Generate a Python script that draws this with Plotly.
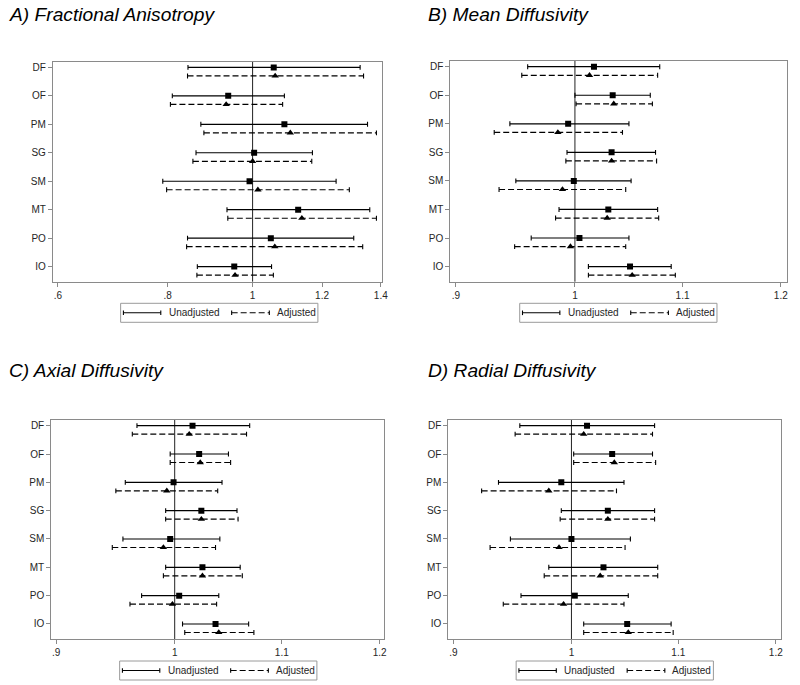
import plotly.graph_objects as go
import numpy as np

categories = ["DF", "OF", "PM", "SG", "SM", "MT", "PO", "IO"]

# A) Fractional Anisotropy
fa_unadj_est = [1.057, 0.938, 1.087, 1.004, 0.992, 1.127, 1.049, 0.953]
fa_unadj_lo = [0.844, 0.810, 0.873, 0.862, 0.790, 0.935, 0.843, 0.865]
fa_unadj_hi = [1.326, 1.087, 1.352, 1.170, 1.245, 1.360, 1.304, 1.051]
fa_adj_est = [1.061, 0.933, 1.104, 1.000, 1.014, 1.138, 1.060, 0.955]
fa_adj_lo = [0.843, 0.806, 0.880, 0.855, 0.798, 0.937, 0.841, 0.864]
fa_adj_hi = [1.338, 1.082, 1.384, 1.168, 1.289, 1.384, 1.335, 1.056]

# B) Mean Diffusivity
md_unadj_est = [1.017, 1.034, 0.994, 1.033, 0.999, 1.030, 1.004, 1.050]
md_unadj_lo = [0.959, 1.000, 0.944, 0.993, 0.949, 0.986, 0.962, 1.012]
md_unadj_hi = [1.078, 1.069, 1.049, 1.074, 1.051, 1.076, 1.049, 1.089]
md_adj_est = [1.013, 1.035, 0.985, 1.033, 0.989, 1.029, 0.996, 1.052]
md_adj_lo = [0.954, 1.001, 0.931, 0.992, 0.935, 0.983, 0.948, 1.012]
md_adj_hi = [1.076, 1.071, 1.043, 1.075, 1.046, 1.077, 1.046, 1.093]

# C) Axial Diffusivity
ad_unadj_est = [1.016, 1.022, 0.999, 1.024, 0.996, 1.025, 1.004, 1.037]
ad_unadj_lo = [0.967, 0.996, 0.957, 0.992, 0.955, 0.992, 0.971, 1.007]
ad_unadj_hi = [1.069, 1.049, 1.043, 1.057, 1.041, 1.060, 1.040, 1.068]
ad_adj_est = [1.013, 1.023, 0.993, 1.024, 0.990, 1.025, 0.998, 1.040]
ad_adj_lo = [0.963, 0.996, 0.949, 0.992, 0.946, 0.990, 0.961, 1.009]
ad_adj_hi = [1.066, 1.051, 1.039, 1.058, 1.037, 1.062, 1.038, 1.073]

# D) Radial Diffusivity
rd_unadj_est = [1.014, 1.037, 0.991, 1.033, 1.000, 1.029, 1.003, 1.051]
rd_unadj_lo = [0.955, 1.002, 0.937, 0.991, 0.947, 0.980, 0.956, 1.011]
rd_unadj_hi = [1.077, 1.075, 1.048, 1.077, 1.054, 1.080, 1.052, 1.093]
rd_adj_est = [1.011, 1.039, 0.980, 1.033, 0.989, 1.026, 0.993, 1.052]
rd_adj_lo = [0.951, 1.002, 0.923, 0.990, 0.930, 0.976, 0.941, 1.011]
rd_adj_hi = [1.075, 1.078, 1.041, 1.077, 1.049, 1.080, 1.048, 1.095]

titles = ["A) Fractional Anisotropy", "B) Mean Diffusivity",
          "C) Axial Diffusivity", "D) Radial Diffusivity"]
fa_ticks = [0.6, 0.8, 1.0, 1.2, 1.4]
fa_ticktext = [".6", ".8", "1", "1.2", "1.4"]
diff_ticks = [0.9, 1.0, 1.1, 1.2]
diff_ticktext = [".9", "1", "1.1", "1.2"]

W, H = 800, 685
def px(x): return x / W
def py(y): return 1 - y / H

FONT = "Liberation Sans, Arial, Helvetica, sans-serif"
FRAME = "#8a8a8a"
TXT = "#262626"

panels = [
    dict(data=(fa_unadj_est, fa_unadj_lo, fa_unadj_hi, fa_adj_est, fa_adj_lo, fa_adj_hi),
         box=(53.3, 385.0, 61.7, 281.7), xr=(0.592, 1.403), ticks=fa_ticks, tt=fa_ticktext,
         title=(7, 2), leg=(121.7, 303.3)),
    dict(data=(md_unadj_est, md_unadj_lo, md_unadj_hi, md_adj_est, md_adj_lo, md_adj_hi),
         box=(454.3, 794.3, 61.0, 281.7), xr=(0.8955, 1.207), ticks=diff_ticks, tt=diff_ticktext,
         title=(430, 2), leg=(524.3, 303.3)),
    dict(data=(ad_unadj_est, ad_unadj_lo, ad_unadj_hi, ad_adj_est, ad_adj_lo, ad_adj_hi),
         box=(51.7, 387.7, 420.0, 639.0), xr=(0.896, 1.205), ticks=diff_ticks, tt=diff_ticktext,
         title=(7, 358), leg=(120.7, 661.0)),
    dict(data=(rd_unadj_est, rd_unadj_lo, rd_unadj_hi, rd_adj_est, rd_adj_lo, rd_adj_hi),
         box=(452.3, 788.3, 420.0, 639.0), xr=(0.896, 1.206), ticks=diff_ticks, tt=diff_ticktext,
         title=(430, 358), leg=(520.7, 661.0)),
]

fig = go.Figure()
shapes = []
annotations = []
ypos = np.arange(len(categories), dtype=float)
ADJ_OFF = 0.3
DASH = "6px,3px"

for i, p in enumerate(panels):
    n = "" if i == 0 else str(i + 1)
    xa, ya = "x" + n, "y" + n
    ue, ul, uh, ae, al, ah = [np.asarray(a, dtype=float) for a in p["data"]]
    for (est, lo, hi, off, dash, sym, msize) in [
        (ue, ul, uh, 0.0, "solid", "square", 6),
        (ae, al, ah, ADJ_OFF, DASH, "triangle-up", 6.5),
    ]:
        yy = ypos + off
        lx, ly = [], []
        for a, b, c in zip(lo, hi, yy):
            lx += [a, b, None]
            ly += [c, c, None]
        fig.add_trace(go.Scatter(x=lx, y=ly, mode="lines", xaxis=xa, yaxis=ya,
                                 line=dict(color="black", width=1.2, dash=dash),
                                 showlegend=False, hoverinfo="skip"))
        fig.add_trace(go.Scatter(x=np.concatenate([lo, hi]), y=np.concatenate([yy, yy]),
                                 mode="markers", xaxis=xa, yaxis=ya,
                                 marker=dict(symbol="line-ns", size=3.5, color="black",
                                             line=dict(color="black", width=1.1)),
                                 showlegend=False, hoverinfo="skip"))
        fig.add_trace(go.Scatter(x=est, y=yy, mode="markers", xaxis=xa, yaxis=ya,
                                 marker=dict(symbol=sym, size=msize, color="black",
                                             line=dict(width=0)),
                                 showlegend=False))
    x0, x1, y0, y1 = p["box"]
    axfont = dict(family=FONT, size=10, color=TXT)
    fig.layout["xaxis" + n] = dict(
        domain=[px(x0), px(x1)], anchor=ya, type="log",
        range=[np.log10(p["xr"][0]), np.log10(p["xr"][1])],
        tickvals=p["ticks"], ticktext=p["tt"], ticks="outside", ticklen=4,
        tickcolor=FRAME, showline=True, linecolor=FRAME, linewidth=1, mirror=True,
        showgrid=False, zeroline=False, tickfont=axfont, fixedrange=True)
    fig.layout["yaxis" + n] = dict(
        domain=[py(y1), py(y0)], anchor=xa, range=[7.53, -0.2],
        tickvals=list(ypos), ticktext=categories, ticks="outside", ticklen=4,
        tickcolor=FRAME, showline=True, linecolor=FRAME, linewidth=1, mirror=True,
        showgrid=False, zeroline=False, tickfont=axfont, fixedrange=True)
    # reference line at 1
    shapes.append(dict(type="line", xref=xa, yref=ya + " domain", x0=1, x1=1, y0=0, y1=1,
                       line=dict(color="#222222", width=1), layer="below"))
    # title
    tx, ty = p["title"]
    annotations.append(dict(text="<i>" + titles[i] + "</i>", xref="paper", yref="paper",
                            x=px(tx), y=py(ty), xanchor="left", yanchor="top",
                            showarrow=False, font=dict(family=FONT, size=19.2, color="black")))
    # legend box
    L, T = p["leg"]
    bw, bh = 199, 19
    cy = T + bh / 2
    shapes.append(dict(type="rect", xref="paper", yref="paper", x0=px(L), x1=px(L + bw),
                       y0=py(T + bh), y1=py(T), line=dict(color="#9a9a9a", width=1),
                       fillcolor="white"))
    for (s0, s1, dash, label, tx0) in [(2.8, 40.5, "solid", "Unadjusted", 46.5),
                                       (112, 150, DASH, "Adjusted", 155.5)]:
        shapes.append(dict(type="line", xref="paper", yref="paper", x0=px(L + s0), x1=px(L + s1),
                           y0=py(cy), y1=py(cy), line=dict(color="black", width=1.1, dash=dash)))
        for cx in (s0, s1):
            shapes.append(dict(type="line", xref="paper", yref="paper", x0=px(L + cx), x1=px(L + cx),
                               y0=py(cy - 2.3), y1=py(cy + 2.3), line=dict(color="black", width=1.1)))
        annotations.append(dict(text=label, xref="paper", yref="paper", x=px(L + tx0), y=py(cy),
                                xanchor="left", yanchor="middle", showarrow=False,
                                font=dict(family=FONT, size=10, color=TXT)))

fig.update_layout(width=W, height=H, margin=dict(l=0, r=0, t=0, b=0),
                  paper_bgcolor="white", plot_bgcolor="white", showlegend=False,
                  shapes=shapes, annotations=annotations)
fig.write_html("out.html", config={"displayModeBar": False},
               post_script="document.body.style.margin='0';document.body.style.padding='0';"
                           "document.body.style.overflow='hidden';")
